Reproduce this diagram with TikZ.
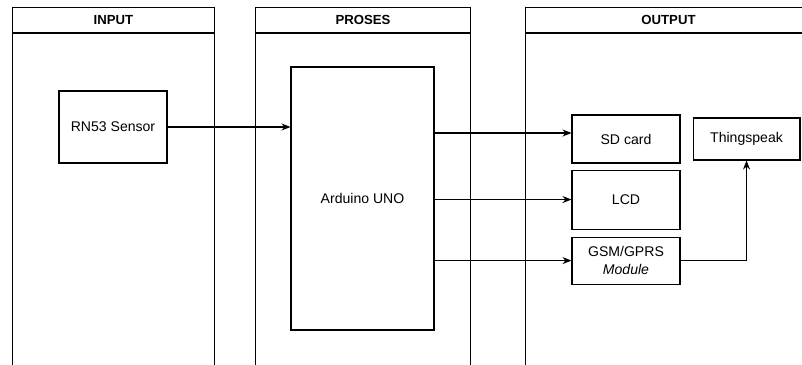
\documentclass[tikz,border=0pt]{standalone}
\usepackage{fontspec}
\setmainfont{Liberation Sans}
\usetikzlibrary{arrows.meta, positioning, calc}

\begin{document}
\begin{tikzpicture}[
    x=0.02cm, y=-0.02cm,
    node distance=0.12cm and 0.24cm,
    lanehead/.style={draw, line width=0.6pt, anchor=north west, inner sep=0pt, minimum height=0.5cm, font=\bfseries\fontsize{7.5}{9}\selectfont},
    lanebody/.style={draw, line width=0.6pt, inner sep=0pt, minimum height=7.2cm},
    box/.style={draw, line width=0.6pt, inner sep=0pt, align=center, font=\fontsize{8}{10}\selectfont},
    arrow/.style={-{Stealth[length=0.18cm, width=0.14cm]}, line width=0.6pt},
    line/.style={line width=0.6pt},
]
    \clip (0,0) rectangle (802,365);

    % lanes
    \node[lanehead, minimum width=4.04cm] (inhead) at (12,7) {INPUT};
    \node[lanebody, minimum width=4.04cm, below=0pt of inhead] (inbody) {};
    \node[lanehead, minimum width=4.3cm] (prhead) at (255,7) {PROSES};
    \node[lanebody, minimum width=4.3cm, below=0pt of prhead] (prbody) {};
    \node[lanehead, minimum width=5.72cm] (outhead) at (525,7) {OUTPUT};
    \node[lanebody, minimum width=5.72cm, below=0pt of outhead] (outbody) {};

    % blocks
    \node[box, minimum width=2.16cm, minimum height=1.44cm] (sensor) at (113,127) {RN53 Sensor};
    \node[box, minimum width=2.86cm, minimum height=5.26cm] (ard) at (362.5,198.5) {Arduino UNO};
    \node[box, minimum width=2.16cm, minimum height=0.96cm] (sd) at (626,139) {SD card};
    \node[box, minimum width=2.16cm, minimum height=1.18cm, below=of sd] (lcd) {LCD};
    \node[box, minimum width=2.16cm, minimum height=0.94cm, below=0.14cm of lcd] (gsm) {GSM/GPRS\\\textit{Module}};
    \node[box, minimum width=2.14cm, minimum height=0.84cm, right=of sd] (ts) {Thingspeak};

    \draw[arrow] (sensor.east) -- (sensor.east -| ard.west);
    \draw[arrow] ([yshift=0.12cm]sd.west -| ard.east) -- ([yshift=0.12cm]sd.west);
    \draw[arrow] (lcd.west -| ard.east) -- (lcd.west);
    \draw[arrow] (gsm.west -| ard.east) -- (gsm.west);
    \draw[arrow] (gsm.east) -| (ts.south);
\end{tikzpicture}
\end{document}
